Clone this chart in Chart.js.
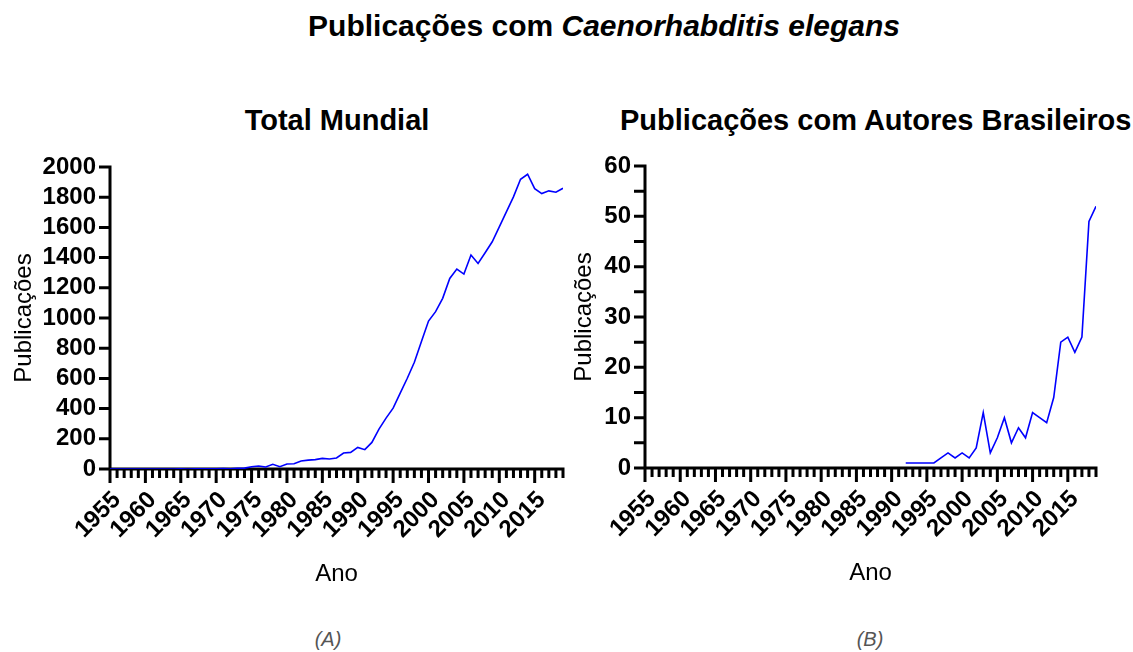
<!DOCTYPE html>
<html>
<head>
<meta charset="utf-8">
<script src="https://cdn.jsdelivr.net/npm/chart.js@4.4.1/dist/chart.umd.min.js"></script>
<style>
  body { margin: 0; width: 1133px; height: 652px; background: #fff; position: relative; overflow: hidden;
         font-family: Arial, "Liberation Sans", sans-serif; }
  .t { position: absolute; text-align: center; font-weight: bold; color: #000; white-space: nowrap; line-height: 1; }
  .cap { position: absolute; text-align: center; font-style: italic; color: #555; font-size: 20px; line-height: 1; }
  canvas { position: absolute; top: 0; }
</style>
</head>
<body>
<div class="t" style="left:0;width:1208px;top:11px;font-size:30px">Publicações com <i>Caenorhabditis elegans</i></div>
<div class="t" style="left:137px;width:400px;top:106px;font-size:29px">Total Mundial</div>
<div class="t" style="left:620px;width:500px;top:106px;font-size:29px">Publicações com Autores Brasileiros</div>
<div class="cap" style="left:278px;width:100px;top:629px">(A)</div>
<div class="cap" style="left:820px;width:100px;top:629px">(B)</div>

<canvas id="chartA" width="590" height="610" style="left:0"></canvas>
<canvas id="chartB" width="573" height="610" style="left:560px"></canvas>

<script>
// Total mundial (1955-2019)
var anosMundial = [1955, 1956, 1957, 1958, 1959, 1960, 1961, 1962, 1963, 1964,
  1965, 1966, 1967, 1968, 1969, 1970, 1971, 1972, 1973, 1974,
  1975, 1976, 1977, 1978, 1979, 1980, 1981, 1982, 1983, 1984,
  1985, 1986, 1987, 1988, 1989, 1990, 1991, 1992, 1993, 1994,
  1995, 1996, 1997, 1998, 1999, 2000, 2001, 2002, 2003, 2004,
  2005, 2006, 2007, 2008, 2009, 2010, 2011, 2012, 2013, 2014,
  2015, 2016, 2017, 2018, 2019];
var pubMundial = [0, 0, 0, 0, 0, 0, 0, 0, 0, 0,
  1, 0, 1, 2, 1, 2, 3, 2, 4, 6,
  15, 20, 13, 31, 15, 33, 35, 53, 59, 62,
  70, 66, 73, 106, 110, 143, 128, 176, 264, 337,
  403, 502, 601, 707, 844, 980, 1042, 1130, 1262, 1324,
  1291, 1417, 1361, 1432, 1505, 1604, 1703, 1802, 1919, 1952,
  1857, 1824, 1842, 1833, 1859];

// Autores brasileiros (1992-2019)
var anosBrasil = [1992, 1993, 1994, 1995, 1996, 1997, 1998, 1999, 2000, 2001,
  2002, 2003, 2004, 2005, 2006, 2007, 2008, 2009, 2010, 2011,
  2012, 2013, 2014, 2015, 2016, 2017, 2018, 2019];
var pubBrasil = [1, 1, 1, 1, 1, 2, 3, 2, 3, 2,
  4, 11, 3, 6, 10, 5, 8, 6, 11, 10,
  9, 14, 25, 26, 23, 26, 49, 52];

var anoMin = 1955, anoMax = 2019;

Chart.defaults.font.family = 'Arial, "Liberation Sans", sans-serif';
Chart.defaults.color = '#000';

// eixos e marcas desenhados à mão (marcas menores mais curtas)
var eixos = {
  id: 'eixos',
  beforeDatasetsDraw: function(chart) {
    var ctx = chart.ctx, a = chart.chartArea;
    var sx = chart.scales.x, sy = chart.scales.y;
    ctx.save();
    ctx.strokeStyle = '#000';
    ctx.lineWidth = 3;
    ctx.beginPath();
    ctx.moveTo(a.left, a.top - 1.5);
    ctx.lineTo(a.left, a.bottom);
    ctx.moveTo(a.left, a.bottom);
    ctx.lineTo(a.right + 1.5, a.bottom);
    sx.ticks.forEach(function(t) {
      var px = sx.getPixelForValue(t.value);
      var len = (t.value % 5 === 0) ? 14 : 9;
      ctx.moveTo(px, a.bottom);
      ctx.lineTo(px, a.bottom + len);
    });
    sy.ticks.forEach(function(t) {
      var py = sy.getPixelForValue(t.value);
      ctx.moveTo(a.left - 11, py);
      ctx.lineTo(a.left, py);
    });
    ctx.stroke();
    ctx.restore();
  }
};

function grafico(id, anos, valores, yMax, yStep, yLabelStep, yWidth, pad) {
  var pontos = anos.map(function(ano, i) { return {x: ano, y: valores[i]}; });
  return new Chart(document.getElementById(id).getContext('2d'), {
    type: 'line',
    data: {
      datasets: [{
        data: pontos,
        borderColor: '#0000ff',
        borderWidth: 1.6,
        pointRadius: 0,
        fill: false,
        tension: 0
      }]
    },
    options: {
      responsive: false,
      animation: false,
      devicePixelRatio: 1,
      layout: { padding: pad },
      plugins: { legend: { display: false }, tooltip: { enabled: false } },
      scales: {
        x: {
          type: 'linear',
          min: anoMin,
          max: anoMax,
          grid: { display: false, drawTicks: false },
          border: { display: false },
          afterFit: function(s) {
            s.height = 124;
            s.paddingLeft = 0;
            s.paddingRight = 0;
          },
          ticks: {
            stepSize: 1,
            maxTicksLimit: 100,
            autoSkip: false,
            maxRotation: 45,
            minRotation: 45,
            padding: 17,
            labelOffset: 7,
            font: { size: 24, weight: 'bold' },
            callback: function(v) { return v % 5 === 0 ? String(v) : ''; }
          },
          title: { display: true, text: 'Ano', font: { size: 24 }, padding: { top: 4, bottom: 4 } }
        },
        y: {
          min: 0,
          max: yMax,
          grid: { display: false, drawTicks: false },
          border: { display: false },
          afterFit: function(s) { s.width = yWidth; },
          ticks: {
            stepSize: yStep,
            autoSkip: false,
            padding: 14,
            font: { size: 24, weight: 'bold' },
            callback: function(v) { return v % yLabelStep === 0 ? String(v) : ''; }
          },
          title: { display: true, text: 'Publicações', font: { size: 24 }, padding: { top: 10, bottom: 4 } }
        }
      }
    },
    plugins: [eixos]
  });
}

grafico('chartA', anosMundial, pubMundial, 2000, 200, 200, 110, { top: 167, left: 0, right: 27, bottom: 17 });
grafico('chartB', anosBrasil, pubBrasil, 60, 5, 10, 85, { top: 166, left: 0, right: 37, bottom: 18 });
</script>
</body>
</html>
